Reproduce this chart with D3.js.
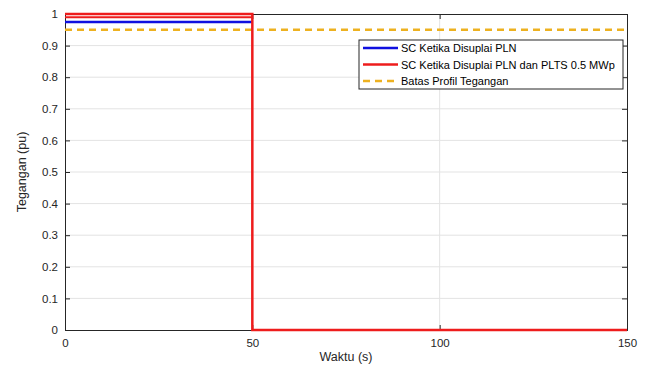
<!DOCTYPE html>
<html>
<head>
<meta charset="utf-8">
<script src="https://cdn.jsdelivr.net/npm/d3@7"></script>
<style>
  body { margin: 0; background: #fff; }
  text { font-family: "Liberation Sans", Arial, sans-serif; }
</style>
</head>
<body>
<div id="chart"></div>
<script>
// data
const xTicks = [0, 50, 100, 150];
const yTicks = [0, 0.1, 0.2, 0.3, 0.4, 0.5, 0.6, 0.7, 0.8, 0.9, 1];
const bluePts = [[0, 0.975], [50, 0.975]];
const redPts = [[0, 1], [50, 1], [50, 0], [150, 0]];
const redPts2 = [[0, 0.99], [50, 0.99]];
const batas = 0.95;
const legendNames = ["SC Ketika Disuplai PLN", "SC Ketika Disuplai PLN dan PLTS 0.5 MWp", "Batas Profil Tegangan"];

const width = 645, height = 367;
const m = {left: 65, right: 18, top: 14, bottom: 37};

const svg = d3.select("#chart").append("svg")
    .attr("width", width)
    .attr("height", height);

const x = d3.scaleLinear().domain([0, 150]).range([m.left, width - m.right]);
const y = d3.scaleLinear().domain([0, 1]).range([height - m.bottom, m.top]);

// grid
svg.append("g").selectAll("line").data(xTicks.slice(1, -1)).join("line")
    .attr("x1", d => x(d)).attr("x2", d => x(d))
    .attr("y1", y(0)).attr("y2", y(1))
    .style("stroke", "#e3e3e3").style("stroke-width", 1);
svg.append("g").selectAll("line").data(yTicks.slice(1, -1)).join("line")
    .attr("x1", x(0)).attr("x2", x(150))
    .attr("y1", d => y(d)).attr("y2", d => y(d))
    .style("stroke", "#e3e3e3").style("stroke-width", 1);

// axes
const xAxis = svg.append("g")
    .attr("transform", `translate(0,${y(0)})`)
    .call(d3.axisBottom(x).tickValues(xTicks).tickSize(-5).tickPadding(9).tickFormat(d3.format("d")));
const yAxis = svg.append("g")
    .attr("transform", `translate(${x(0)},0)`)
    .call(d3.axisLeft(y).tickValues(yTicks).tickSize(-5).tickPadding(7).tickFormat(d => d === 0 || d === 1 ? d : d3.format(".1f")(d)));
svg.append("g").attr("transform", `translate(0,${y(1)})`)
    .call(d3.axisTop(x).tickValues(xTicks).tickSize(-5).tickFormat(""));
svg.append("g").attr("transform", `translate(${x(150)},0)`)
    .call(d3.axisRight(y).tickValues(yTicks).tickSize(-5).tickFormat(""));

svg.selectAll(".domain").style("stroke", "#262626");
svg.selectAll(".tick line").style("stroke", "#262626");
svg.selectAll(".tick text").style("font-size", "11.5px").style("fill", "#262626");

const line = d3.line().x(d => x(d[0])).y(d => y(d[1]));

// batas profil
svg.append("line")
    .attr("x1", x(0)).attr("x2", x(150))
    .attr("y1", y(batas)).attr("y2", y(batas))
    .style("stroke", "#EDB120").style("stroke-width", 2.5)
    .style("stroke-dasharray", "7,5");

svg.append("path").datum(bluePts).attr("d", line)
    .style("fill", "none").style("stroke", "#1010e0").style("stroke-width", 2.5);
svg.append("path").datum(redPts2).attr("d", line)
    .style("fill", "none").style("stroke", "#ee1c1c").style("stroke-width", 2);
svg.append("path").datum(redPts).attr("d", line)
    .style("fill", "none").style("stroke", "#ee1c1c").style("stroke-width", 2.5);

// labels
svg.append("text").attr("x", (x(0) + x(150)) / 2).attr("y", 361)
    .attr("text-anchor", "middle").style("font-size", "12.5px").style("fill", "#262626")
    .text("Waktu (s)");
svg.append("text")
    .attr("transform", `translate(26,${(y(0) + y(1)) / 2}) rotate(-90)`)
    .attr("text-anchor", "middle").style("font-size", "12.5px").style("fill", "#262626")
    .text("Tegangan (pu)");

// legend
const lg = svg.append("g").attr("transform", "translate(359,40)");
lg.append("rect").attr("width", 264).attr("height", 49)
    .style("fill", "#fff").style("stroke", "#262626").style("stroke-width", 1);
const colors = ["#1010e0", "#ee1c1c", "#EDB120"];
legendNames.forEach((name, i) => {
    const ly = 8 + i * 16.5;
    lg.append("line").attr("x1", 4).attr("x2", 39).attr("y1", ly).attr("y2", ly)
        .style("stroke", colors[i]).style("stroke-width", 2.5)
        .style("stroke-dasharray", i === 2 ? "7,5" : null);
    lg.append("text").attr("x", 42).attr("y", ly + 4)
        .style("font-size", "11px").style("fill", "#000").text(name);
});
</script>
</body>
</html>
